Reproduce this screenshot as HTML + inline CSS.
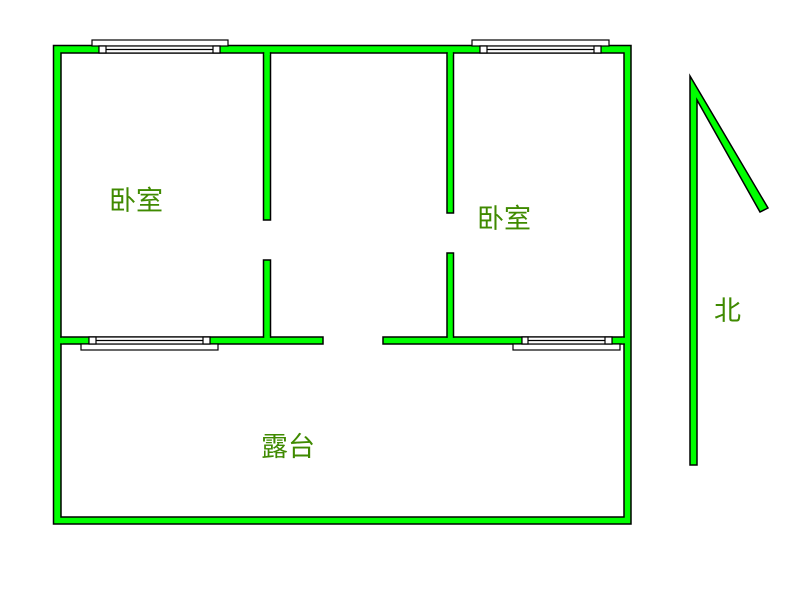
<!DOCTYPE html>
<html><head><meta charset="utf-8"><style>
html,body{margin:0;padding:0;background:#fff;}
svg{display:block;}
text{font-family:"Liberation Sans","Noto Sans CJK SC",sans-serif;font-size:27px;fill:#3f8a00;}
</style></head><body>
<svg width="802" height="592" viewBox="0 0 802 592" xmlns="http://www.w3.org/2000/svg">
<g fill="#00ff00" stroke="#000" stroke-width="1.5">
<path d="M53.5,45.5 H631 V524 H53.5 Z M61,53 V517 H624 V53 Z" fill-rule="evenodd"/>
<rect x="61" y="337" width="262" height="7"/>
<rect x="383" y="337" width="241" height="7"/>
<rect x="263.5" y="53" width="7" height="167"/>
<rect x="263.5" y="260" width="7" height="77"/>
<rect x="447" y="53" width="6.5" height="160"/>
<rect x="447" y="253" width="6.5" height="84"/>
<polygon points="690,76 768,208 760,212 697,100 697,465 690,465"/>
</g>
<g fill="#00ff00">
<rect x="264.3" y="52" width="5.5" height="3"/>
<rect x="264.3" y="336" width="5.5" height="3"/>
<rect x="447.8" y="52" width="5" height="3"/>
<rect x="447.8" y="336" width="5" height="3"/>
<rect x="60" y="337.8" width="3" height="5.5"/>
<rect x="622" y="337.8" width="3" height="5.5"/>
</g>
<g fill="#fff" stroke="#000" stroke-width="1.2">
<rect x="92" y="40" width="136" height="6"/>
<rect x="99" y="46" width="121" height="7"/>
<line x1="106" y1="49.5" x2="213" y2="49.5"/>
<rect x="99" y="46" width="7" height="7"/>
<rect x="213" y="46" width="7" height="7"/>
<rect x="472" y="40" width="137" height="6"/>
<rect x="480" y="46" width="121" height="7"/>
<line x1="487" y1="49.5" x2="594" y2="49.5"/>
<rect x="480" y="46" width="7" height="7"/>
<rect x="594" y="46" width="7" height="7"/>
<rect x="81" y="344" width="137" height="6"/>
<rect x="89" y="337" width="121" height="7"/>
<line x1="96" y1="340.5" x2="203" y2="340.5"/>
<rect x="89" y="337" width="7" height="7"/>
<rect x="203" y="337" width="7" height="7"/>
<rect x="513" y="344" width="107" height="6"/>
<rect x="522" y="337" width="90" height="7"/>
<line x1="528" y1="340.5" x2="605" y2="340.5"/>
<rect x="522" y="337" width="6" height="7"/>
<rect x="605" y="337" width="7" height="7"/>
</g>
<text x="109" y="210">卧室</text>
<text x="477" y="228">卧室</text>
<text x="261" y="456">露台</text>
<text x="714" y="320">北</text>
</svg>
</body></html>
